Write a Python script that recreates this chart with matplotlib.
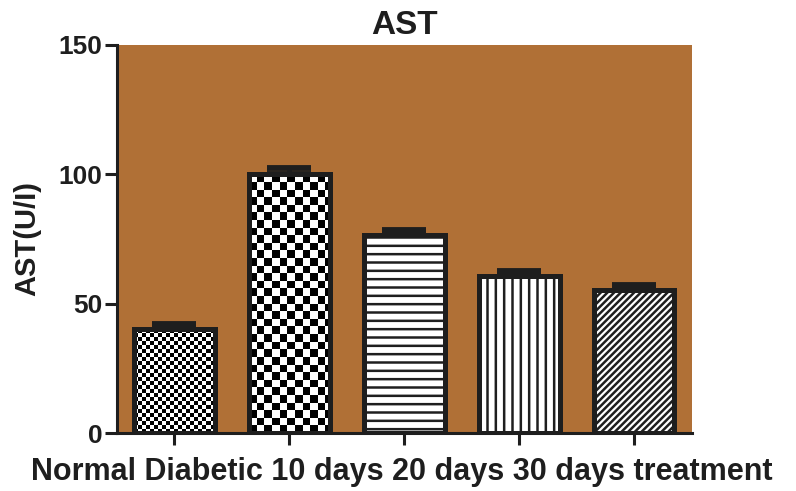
import numpy as np
import matplotlib
matplotlib.use("Agg")
import matplotlib.pyplot as plt

# AST levels per group
groups = ["Normal", "Diabetic", "10 days", "20 days", "30 days treatment"]
ast_mean = [40.4, 100.0, 76.5, 60.8, 55.4]
ast_sem = [1.9, 2.5, 2.0, 1.7, 1.9]
y_ticks = [0, 50, 100, 150]

plt.rcParams["font.family"] = ["Liberation Sans", "DejaVu Sans"]
plt.rcParams["font.weight"] = "bold"
plt.rcParams["hatch.linewidth"] = 1.8
plt.rcParams["hatch.color"] = "black"

BROWN = "#B07036"
INK = "#1e1e1e"

fig = plt.figure(figsize=(7.96, 4.91), dpi=100)
ax = fig.add_axes([0.147, 0.1181, 0.722, 0.7903])
ax.set_facecolor(BROWN)

x = np.arange(len(groups))
width = 0.70
# fill styles: None -> checkerboard with given cell size (px)
hatches = [None, None, "--", "||", "/////"]
checker_px = [4.0, 7.6, None, None, None]

ax.set_xlim(-0.5, len(groups) - 0.5)
ax.set_ylim(0, 150)

bars = ax.bar(x, ast_mean, width=width, color="white", edgecolor=INK,
              linewidth=0, zorder=2)
for b, h in zip(bars, hatches):
    if h:
        b.set_hatch(h)
        b.set_linewidth(0.01)

# checkerboard fills, clipped to the bar rectangles
fig.canvas.draw()
bbox = ax.get_window_extent()
px_per_x = bbox.width / (ax.get_xlim()[1] - ax.get_xlim()[0])
px_per_y = bbox.height / (ax.get_ylim()[1] - ax.get_ylim()[0])
for b, c in zip(bars, checker_px):
    if c is None:
        continue
    x0 = b.get_x()
    w = b.get_width()
    h = b.get_height()
    nx = int(np.ceil(w * px_per_x / c)) + 1
    ny = int(np.ceil(h * px_per_y / c)) + 1
    board = (np.add.outer(np.arange(ny), np.arange(nx)) % 2).astype(float)
    ext = (x0, x0 + nx * c / px_per_x, 0, ny * c / px_per_y)
    im = ax.imshow(board, cmap="gray", vmin=0, vmax=1, extent=ext,
                   origin="lower", interpolation="nearest", aspect="auto",
                   zorder=2.5)
    im.set_clip_path(b)

# bar outlines on top
ax.bar(x, ast_mean, width=width, fill=False, edgecolor=INK, linewidth=3.6,
       joinstyle="miter", zorder=3)

# upper error bars only
ax.errorbar(x, ast_mean, yerr=[np.zeros(len(x)), ast_sem], fmt="none",
            ecolor=INK, elinewidth=3.5, capsize=15.5, capthick=4.2, zorder=2.8)

ax.set_xlim(-0.5, len(groups) - 0.5)
ax.set_ylim(0, 150)
ax.set_yticks(y_ticks)
ax.set_xticks(x)
ax.set_xticklabels([])

for s in ["top", "right"]:
    ax.spines[s].set_visible(False)
for s in ["left", "bottom"]:
    ax.spines[s].set_linewidth(2.2)
    ax.spines[s].set_color(INK)
    ax.spines[s].set_zorder(4)
ax.tick_params(axis="both", direction="out", length=8.6, width=2.2, color=INK)
ax.tick_params(axis="y", labelsize=19, pad=2, labelcolor=INK)

ax.set_title("AST", fontsize=24, fontweight="bold", pad=8, color=INK)
ax.set_ylabel("AST(U/I)", fontsize=21, fontweight="bold", labelpad=12, color=INK)

fig.text(402 / 796, 1 - 472 / 491, " ".join(groups), ha="center", va="center",
         fontsize=22, fontweight="bold", color=INK)

fig.savefig("out.png", dpi=100)
